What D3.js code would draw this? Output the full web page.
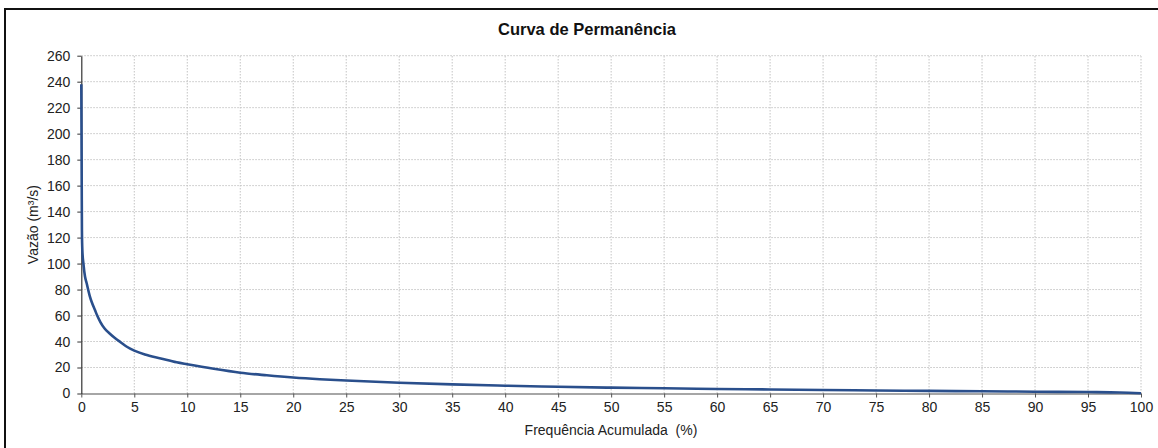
<!DOCTYPE html>
<html><head><meta charset="utf-8">
<script src="https://cdn.jsdelivr.net/npm/d3@7"></script>
<style>
body{margin:0;background:#fff;}
svg{display:block;font-family:"Liberation Sans",Arial,sans-serif;}
</style></head>
<body>
<svg id="chart" width="1158" height="448"></svg>
<script>
const title = "Curva de Permanência";
const xLabel = "Frequência Acumulada  (%)";
const yLabel = "Vazão (m³/s)";
const freq = [0,0.02,0.04,0.06,0.1,0.2,0.35,0.5,0.8,1.0,1.3,1.5,1.8,2.2,2.7,3.2,3.7,4.3,5,6,7.5,9,10,12.5,15,17.5,20,22.5,25,30,35,40,45,50,55,60,65,70,75,80,85,90,95,98,100];
const flow = [238,200,160,125,110,100,90,85,75,70,64,60,55,50,46,42.5,39.5,36,33,30,27,24,22.5,19,16,14,12.3,11,10,8.3,7,6,5.2,4.5,4,3.5,3.1,2.7,2.3,2,1.7,1.4,1.1,0.8,0.2];
const xTicks = d3.range(0,101,5);
const yTicks = d3.range(0,261,20);

const svg = d3.select("#chart");
// outer frame
svg.append("rect").attr("x",5).attr("y",9).attr("width",1170).attr("height",460)
  .attr("fill","none").attr("stroke","#111").attr("stroke-width",2);

const x = d3.scaleLinear().domain([0,100]).range([81.3,1141]);
const y = d3.scaleLinear().domain([0,260]).range([393.5,55.7]);

// grid
svg.append("g").selectAll("line").data(yTicks.filter(d=>d>0)).join("line")
  .attr("x1",x(0)).attr("x2",x(100)).attr("y1",d=>y(d)).attr("y2",d=>y(d))
  .attr("stroke","#c4c4c4").attr("stroke-width",1).attr("stroke-dasharray","1.5,1.5");
svg.append("g").selectAll("line").data(xTicks.filter(d=>d>0)).join("line")
  .attr("y1",y(0)).attr("y2",y(260)).attr("x1",d=>x(d)).attr("x2",d=>x(d))
  .attr("stroke","#c4c4c4").attr("stroke-width",1).attr("stroke-dasharray","1.5,1.5");

// axes
const xAxis = svg.append("g").attr("transform",`translate(0,${y(0)})`)
  .call(d3.axisBottom(x).tickValues(xTicks).tickSize(4).tickPadding(5).tickSizeOuter(0));
const yAxis = svg.append("g").attr("transform",`translate(${x(0)},0)`)
  .call(d3.axisLeft(y).tickValues(yTicks).tickSize(4).tickPadding(7).tickSizeOuter(0));
[xAxis,yAxis].forEach(a=>{
  a.selectAll("text").attr("font-size",14).attr("fill","#222").attr("font-family","'Liberation Sans',Arial,sans-serif");
});
xAxis.select(".domain").attr("stroke","#888").attr("stroke-width",1.5);
xAxis.selectAll(".tick line").attr("stroke","#555");
yAxis.select(".domain").attr("stroke","#333").attr("stroke-width",1.2);
yAxis.selectAll(".tick line").attr("stroke","#333");

// curve
const pts = freq.map((f,i)=>[f,flow[i]]);
svg.append("path").datum(pts)
  .attr("fill","none").attr("stroke","#2a4f8c").attr("stroke-width",2.6)
  .attr("stroke-linejoin","round")
  .attr("d",d3.line().x(d=>x(d[0])).y(d=>y(d[1])).curve(d3.curveMonotoneX));

// texts
svg.append("text").attr("x",587).attr("y",35).attr("text-anchor","middle")
  .attr("font-size",16.5).attr("font-weight","bold").attr("fill","#111").text(title);
svg.append("text").attr("x",611).attr("y",435).attr("text-anchor","middle")
  .attr("font-size",14).attr("fill","#222").style("white-space","pre").text(xLabel);
svg.append("text").attr("transform",`translate(38,${(y(0)+y(260))/2}) rotate(-90)`)
  .attr("text-anchor","middle").attr("font-size",14).attr("fill","#222").text(yLabel);
</script>
</body></html>
